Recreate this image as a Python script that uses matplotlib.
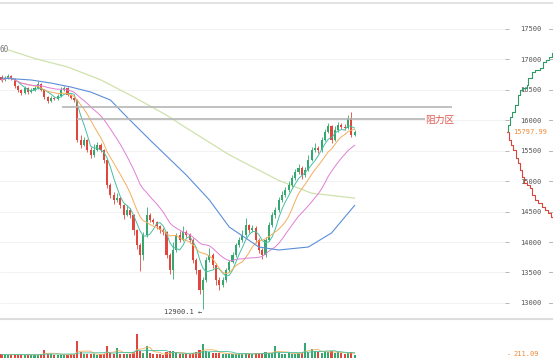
import numpy as np
import pandas as pd
import matplotlib
matplotlib.use("Agg")
import matplotlib.pyplot as plt
from matplotlib.lines import Line2D
from matplotlib import transforms

# ---------------- data ----------------
first_open = 16700
closes = [16656, 16688, 16721, 16672, 16557, 16492, 16443, 16524, 16459, 16492,
          16524, 16590, 16492, 16377, 16311, 16361, 16344, 16393, 16492, 16524,
          16410, 16361, 16328, 15672, 15590, 15672, 15508, 15426, 15508, 15590,
          15508, 15344, 14935, 14771, 14689, 14722, 14607, 14443, 14525, 14443,
          14197, 13951, 13787, 14115, 14443, 14361, 14328, 14263, 14197, 14164,
          13787, 13542, 13869, 14115, 14033, 14164, 14115, 14033, 13705, 13542,
          13213, 13378, 13705, 13787, 13620, 13378, 13296, 13378, 13542, 13672,
          13787, 13951, 14033, 14115, 14279, 14197, 14230, 14033, 13869, 13787,
          14033, 14279, 14443, 14525, 14689, 14771, 14853, 14935, 15049, 15147,
          15213, 15098, 15180, 15344, 15508, 15541, 15508, 15672, 15803, 15902,
          15672, 15836, 15918, 15885, 15869, 16033, 15754, 15797.99]
highs = [16740, 16720, 16760, 16740, 16690, 16580, 16510, 16560, 16540, 16520,
         16560, 16640, 16610, 16510, 16400, 16390, 16380, 16420, 16540, 16560,
         16540, 16430, 16380, 16350, 15760, 15720, 15690, 15560, 15600, 15640,
         15620, 15530, 15360, 14960, 14820, 14800, 14740, 14630, 14600, 14560,
         14460, 14220, 13990, 14160, 14580, 14470, 14400, 14350, 14280, 14230,
         14180, 13820, 14000, 14150, 14180, 14260, 14190, 14140, 14060, 13740,
         13560, 13420, 13760, 13900, 13820, 13650, 13420, 13430, 13580, 13700,
         13830, 13990, 14080, 14200, 14400, 14300, 14280, 14260, 14060, 13900,
         14080, 14330, 14500, 14580, 14740, 14830, 14900, 15000, 15100, 15200,
         15280, 15240, 15230, 15420, 15560, 15620, 15570, 15720, 15860, 15950,
         15920, 15900, 15970, 15950, 15930, 16080, 16131, 15840]
lows = [16630, 16640, 16670, 16650, 16530, 16460, 16410, 16430, 16430, 16440,
        16480, 16510, 16470, 16350, 16280, 16290, 16320, 16330, 16380, 16480,
        16390, 16340, 16300, 15640, 15540, 15570, 15470, 15380, 15400, 15490,
        15470, 15300, 14880, 14720, 14630, 14650, 14560, 14380, 14420, 14400,
        14120, 13880, 13520, 13700, 14080, 14320, 14290, 14220, 14150, 14120,
        13740, 13470, 13400, 13840, 14000, 14010, 14080, 13990, 13660, 13480,
        13150, 12900.1, 13350, 13680, 13580, 13300, 13220, 13260, 13350, 13510,
        13650, 13760, 13920, 14000, 14090, 14150, 14160, 13990, 13820, 13720,
        13760, 14010, 14250, 14400, 14500, 14660, 14740, 14820, 14900, 15020,
        15120, 15040, 15070, 15160, 15320, 15480, 15460, 15480, 15650, 15780,
        15630, 15650, 15800, 15850, 15830, 15850, 15720, 15730]
volumes = [260, 240, 220, 250, 280, 230, 250, 210, 240, 230,
           220, 250, 300, 600, 320, 260, 240, 230, 250, 220,
           240, 260, 280, 1250, 420, 300, 260, 300, 280, 240,
           260, 300, 880, 380, 320, 740, 300, 260, 280, 300,
           420, 1780, 500, 380, 880, 350, 300, 260, 280, 250,
           420, 480, 520, 350, 280, 300, 260, 280, 380, 420,
           600, 1030, 520, 450, 380, 400, 360, 300, 280, 260,
           300, 280, 320, 300, 360, 300, 260, 330, 380, 340,
           420, 380, 360, 880, 350, 320, 300, 340, 300, 320,
           360, 380, 1100, 420, 660, 480, 420, 400, 460, 440,
           520, 380, 420, 340, 300, 360, 420, 211.09]

# long moving averages (candle index, price)
ma_blue_idx = [0, 9, 15, 21, 27, 33, 38, 45, 56, 63, 69, 78, 84, 93, 100, 107]
ma_blue_val = [16688, 16656, 16606, 16541, 16459, 16328, 16049, 15672, 15098,
               14689, 14246, 13918, 13869, 13918, 14148, 14600]
ma_green_idx = [2, 10, 20, 30, 40, 50, 56, 69, 84, 94, 107]
ma_green_val = [17150, 17010, 16870, 16660, 16380, 16080, 15870, 15430, 15010,
                14800, 14720]

resist_upper = 16213
resist_lower = 16010
last_price = 15797.99
low_price = 12900.1
price_ticks = [13000, 13500, 14000, 14500, 15000, 15500, 16000, 16500, 17000, 17500]

# order-book depth on the right (cumulative amount, price)
ask_cum = [0, 1, 3, 5, 8, 11, 13, 15, 20, 21, 25, 28, 33, 36, 39, 42, 45, 46]
ask_price = [15798, 15918, 16049, 16131, 16246, 16410, 16492, 16524, 16574, 16688,
             16787, 16820, 16852, 16951, 16984, 17033, 17098, 17147]
bid_cum = [0, 2, 4, 6, 9, 11, 13, 15, 17, 20, 23, 25, 28, 31, 35, 38, 41, 44, 46]
bid_price = [15798, 15672, 15590, 15508, 15377, 15295, 15180, 15066, 14967, 14935,
             14885, 14771, 14689, 14640, 14574, 14525, 14476, 14410, 14328]

# ---------------- styling ----------------
UP = '#35a871'
DOWN = '#e0463b'
C_MA5 = '#47bfa3'
C_MA10 = '#f3ae5e'
C_MA20 = '#e07fd6'
C_BLUE = '#5b8fd8'
C_LG = '#cfe2ad'
MONO = 'DejaVu Sans Mono'

W, H = 553, 360
fig = plt.figure(figsize=(W / 100, H / 100), dpi=100)
fig.patch.set_facecolor('white')

def fx(px):
    return px / W

def fy(py):
    return 1 - py / H

n = len(closes)
idx = np.arange(n)
opens = [first_open] + closes[:-1]
o = np.array(opens, dtype=float)
c = np.array(closes, dtype=float)
hi = np.array(highs, dtype=float)
lo = np.array(lows, dtype=float)
up = c >= o
cols = np.where(up, UP, DOWN)

xmin = -1.5 / 3.3
xmax = xmin + 505 / 3.3
ylo, yhi = 12754, 17902

ax = fig.add_axes([0, fy(318), fx(505), (318 - 4) / H])
ax.set_xlim(xmin, xmax)
ax.set_ylim(ylo, yhi)
for s in ax.spines.values():
    s.set_visible(False)
ax.set_xticks([])
ax.yaxis.tick_right()
ax.set_yticks(price_ticks)
ax.set_yticklabels([str(t) for t in price_ticks])
ax.tick_params(axis='y', length=3, width=0.6, color='#aaaaaa', labelsize=5,
               labelcolor='#555555', pad=8)
for lbl in ax.get_yticklabels():
    lbl.set_family(MONO)
ax.grid(axis='y', color='#f0f0f0', lw=0.6)
ax.set_axisbelow(True)

# candles
ax.vlines(idx, lo, hi, colors=cols, lw=0.6, zorder=3)
body_bottom = np.minimum(o, c)
body_h = np.maximum(np.abs(c - o), 8)
ax.bar(idx, body_h, bottom=body_bottom, width=0.62, color=cols, zorder=4, lw=0)

# moving averages
cs = pd.Series(c)
ax.plot(idx, cs.rolling(5, min_periods=1).mean(), color=C_MA5, lw=0.7, zorder=5)
ax.plot(idx, cs.rolling(10, min_periods=1).mean(), color=C_MA10, lw=0.7, zorder=5)
ax.plot(idx, cs.rolling(20, min_periods=1).mean(), color=C_MA20, lw=0.7, zorder=5)
ax.plot(ma_blue_idx, ma_blue_val, color=C_BLUE, lw=0.8, zorder=5)
ax.plot(ma_green_idx, ma_green_val, color=C_LG, lw=0.9, zorder=2)

# resistance zone
ax.hlines(resist_upper, 18.3, 136.5, color='#b5b5b5', lw=1.2, zorder=6)
ax.hlines(resist_lower, 22.9, 128.3, color='#b5b5b5', lw=1.2, zorder=6)
fig.text(fx(440), fy(120), '阻力区', family=['Noto Sans CJK SC', 'DejaVu Sans'],
         fontsize=7, color='#e05a50', ha='center', va='center')

# low marker
ax.text(int(np.argmin(lo)) - 0.3, low_price, f'{low_price} ←', family=MONO,
        fontsize=5, color='#444444', ha='right', va='top')
fig.text(fx(0), fy(50), '60', family=MONO, fontsize=5.5, color='#777777',
         ha='left', va='center')

# last price label
fig.text(fx(507), fy(132.5), '-', family=MONO, fontsize=5, color='#f08a3a',
         ha='left', va='center')
fig.text(fx(513), fy(132.5), f'{last_price:.2f}', family=MONO, fontsize=5,
         color='#f08a3a', ha='left', va='center')

# right-edge small ticks
bt = transforms.blended_transform_factory(fig.transFigure, ax.transData)
for t in price_ticks:
    fig.add_artist(Line2D([fx(549), fx(553)], [t, t], transform=bt,
                          color='#aaaaaa', lw=0.6))

# depth lines
dax = fig.add_axes([fx(507), fy(318), fx(46), (318 - 4) / H])
dax.set_xlim(0, 46)
dax.set_ylim(ylo, yhi)
dax.axis('off')
dax.plot(ask_cum, ask_price, drawstyle='steps-post', color='#2e9a66', lw=0.8)
dax.plot(bid_cum, bid_price, drawstyle='steps-post', color='#d9453a', lw=0.8)

# volume panel
vax = fig.add_axes([0, fy(358), fx(505), (358 - 321) / H])
vax.set_xlim(xmin, xmax)
vax.set_ylim(0, 2700)
vax.axis('off')
vax.bar(idx, volumes, width=0.62, color=cols, lw=0)
vs = pd.Series(np.array(volumes, dtype=float))
vax.plot(idx, vs.rolling(5, min_periods=1).mean(), color=C_MA10, lw=0.6)
vax.plot(idx, vs.rolling(10, min_periods=1).mean(), color=C_MA5, lw=0.6)
fig.text(fx(507), fy(354), '-', family=MONO, fontsize=5, color='#f08a3a',
         ha='left', va='center')
fig.text(fx(513), fy(354), f'{volumes[-1]:.2f}', family=MONO, fontsize=5,
         color='#f08a3a', ha='left', va='center')

# frame lines
fig.add_artist(Line2D([0, 1], [fy(3), fy(3)], color='#dddddd', lw=1.2))
fig.add_artist(Line2D([0, 1], [fy(318.5), fy(318.5)], color='#dddddd', lw=1.5))

fig.savefig('out.png', dpi=100, facecolor='white')
